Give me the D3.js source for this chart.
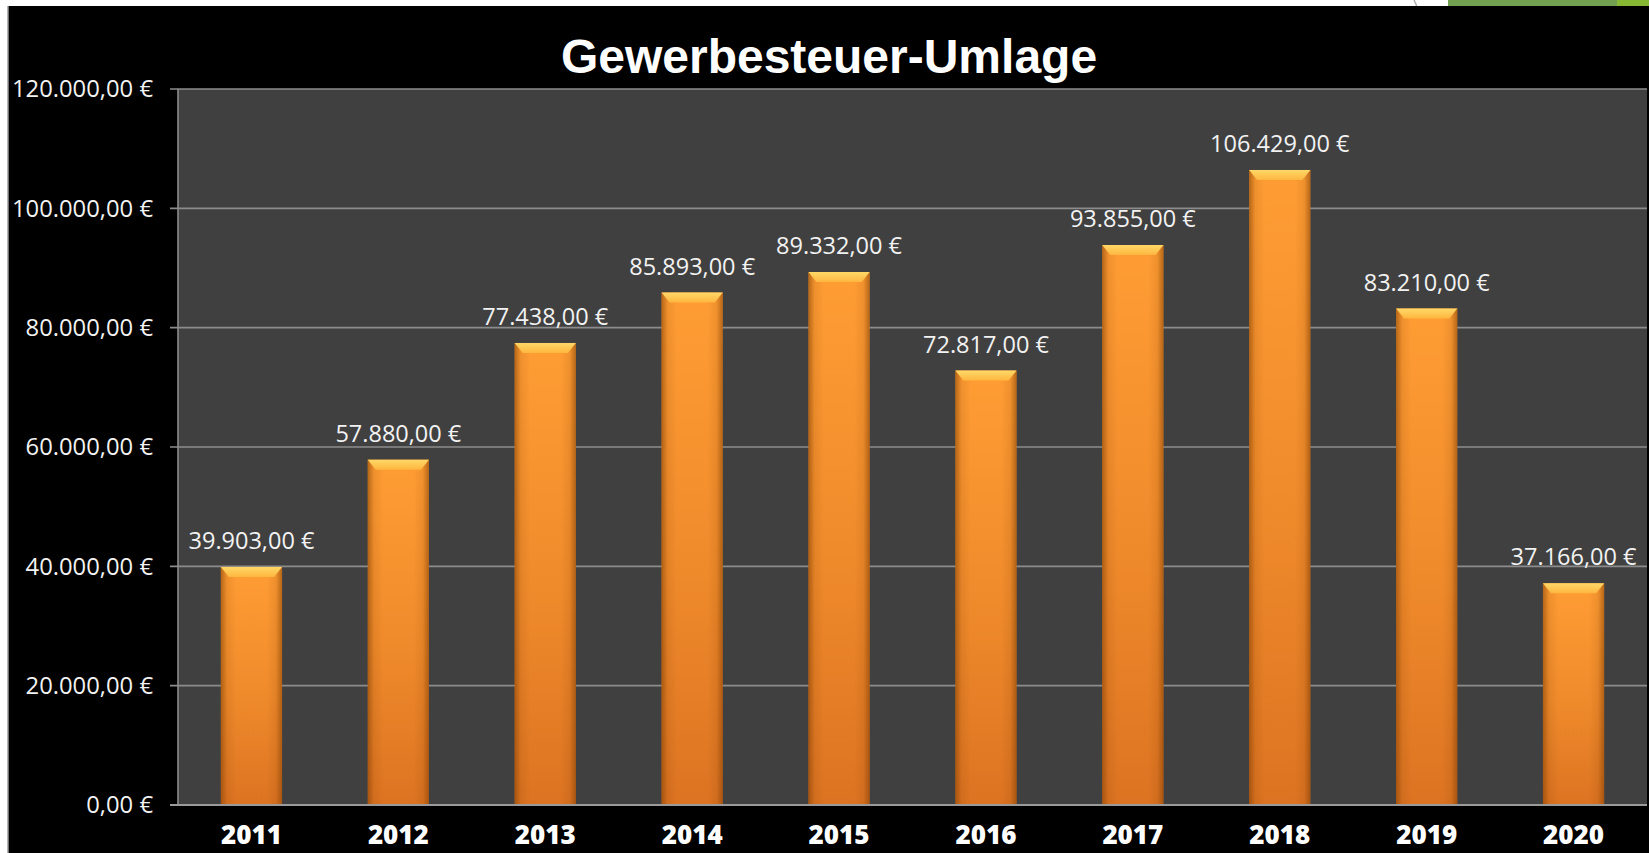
<!DOCTYPE html>
<html>
<head>
<meta charset="utf-8">
<script src="https://cdn.jsdelivr.net/npm/d3@7/dist/d3.min.js"></script>
<style>
  html, body { margin: 0; padding: 0; background: #ffffff; overflow: hidden; }
  svg { display: block; }
</style>
</head>
<body>
<svg id="chart" width="1649" height="853"></svg>
<script>
// ---- data ----
const title = "Gewerbesteuer-Umlage";
const years = ["2011", "2012", "2013", "2014", "2015", "2016", "2017", "2018", "2019", "2020"];
const values = [39903, 57880, 77438, 85893, 89332, 72817, 93855, 106429, 83210, 37166];
const yTicks = [0, 20000, 40000, 60000, 80000, 100000, 120000];

// ---- layout ----
const W = 1649, H = 853;
const plot = { left: 178, right: 1647, top: 89, bottom: 805 };

const svg = d3.select("#chart");
const defs = svg.append("defs");

// page background pieces
svg.append("rect").attr("x", 0).attr("y", 0).attr("width", W).attr("height", H).attr("fill", "#ffffff");
svg.append("rect").attr("x", 1448).attr("y", 0).attr("width", 169).attr("height", 8).attr("fill", "#71a050");
svg.append("rect").attr("x", 1617).attr("y", 0).attr("width", 32).attr("height", 8).attr("fill", "#86b834");
svg.append("path").attr("d", "M1414,0 Q1416,4 1417,7").attr("stroke", "#b0b0b0").attr("fill", "none").attr("stroke-width", 1.5);
svg.append("rect").attr("x", 8).attr("y", 6).attr("width", W - 8).attr("height", H - 6).attr("fill", "#000000");
svg.append("line").attr("x1", 8).attr("x2", 8).attr("y1", 6).attr("y2", H).attr("stroke", "#9a9a9a").attr("stroke-width", 1.5);

// plot area
svg.append("rect")
  .attr("x", plot.left).attr("y", plot.top)
  .attr("width", plot.right - plot.left).attr("height", plot.bottom - plot.top)
  .attr("fill", "#404040");

const x = d3.scaleBand().domain(years).range([plot.left, plot.right]).paddingInner(1.4 / 2.4).paddingOuter(0.7 / 2.4);
const y = d3.scaleLinear().domain([0, 120000]).range([plot.bottom, plot.top]);

// gridlines + ticks
const fmt = v => {
  const s = d3.format(",.2f")(v);
  return s.replace(/,/g, "#").replace(".", ",").replace(/#/g, ".") + " \u20AC";
};
svg.append("g").selectAll("line").data(yTicks).join("line")
  .attr("x1", plot.left - 8).attr("x2", plot.right)
  .attr("y1", d => y(d)).attr("y2", d => y(d))
  .attr("stroke", "#8c8c8c").attr("stroke-width", 1.6);
svg.append("line").attr("x1", plot.left).attr("x2", plot.left)
  .attr("y1", plot.top).attr("y2", plot.bottom)
  .attr("stroke", "#8c8c8c").attr("stroke-width", 1.6);

svg.append("g").selectAll("text").data(yTicks).join("text")
  .attr("x", 153).attr("y", d => y(d))
  .attr("dy", "0.35em")
  .attr("text-anchor", "end")
  .attr("fill", "#f2f2f2")
  .attr("font-family", "'Open Sans', sans-serif")
  .attr("font-size", 23.8)
  .text(d => fmt(d));

// gradients
const gV = defs.append("linearGradient").attr("id", "barV").attr("x1", 0).attr("y1", 0).attr("x2", 0).attr("y2", 1);
gV.append("stop").attr("offset", "0%").attr("stop-color", "#ff9d34");
gV.append("stop").attr("offset", "55%").attr("stop-color", "#ef8a2b");
gV.append("stop").attr("offset", "100%").attr("stop-color", "#dc7322");

const gH = defs.append("linearGradient").attr("id", "barH").attr("x1", 0).attr("y1", 0).attr("x2", 1).attr("y2", 0);
gH.append("stop").attr("offset", "0%").attr("stop-color", "#7a3a00").attr("stop-opacity", 0.55);
gH.append("stop").attr("offset", "10%").attr("stop-color", "#7a3a00").attr("stop-opacity", 0.12);
gH.append("stop").attr("offset", "25%").attr("stop-color", "#7a3a00").attr("stop-opacity", 0);
gH.append("stop").attr("offset", "75%").attr("stop-color", "#7a3a00").attr("stop-opacity", 0);
gH.append("stop").attr("offset", "90%").attr("stop-color", "#7a3a00").attr("stop-opacity", 0.12);
gH.append("stop").attr("offset", "100%").attr("stop-color", "#7a3a00").attr("stop-opacity", 0.55);

const gB = defs.append("linearGradient").attr("id", "bevel").attr("x1", 0).attr("y1", 0).attr("x2", 0).attr("y2", 1);
gB.append("stop").attr("offset", "0%").attr("stop-color", "#ffd868");
gB.append("stop").attr("offset", "100%").attr("stop-color", "#ffb63f");

// bars
const bars = svg.append("g");
const data = years.map((yr, i) => ({ yr, v: values[i] }));
const bw = x.bandwidth();

bars.selectAll("rect.base").data(data).join("rect").attr("class", "base")
  .attr("x", d => x(d.yr)).attr("y", d => y(d.v))
  .attr("width", bw).attr("height", d => y(0) - y(d.v))
  .attr("fill", "url(#barV)");
bars.selectAll("rect.edge").data(data).join("rect").attr("class", "edge")
  .attr("x", d => x(d.yr)).attr("y", d => y(d.v))
  .attr("width", bw).attr("height", d => y(0) - y(d.v))
  .attr("fill", "url(#barH)");
const bev = 10, ins = 8;
bars.selectAll("path.bevel").data(data).join("path").attr("class", "bevel")
  .attr("d", d => {
    const x0 = x(d.yr), x1 = x0 + bw, t = y(d.v);
    return `M${x0},${t}L${x1},${t}L${x1 - ins},${t + bev}L${x0 + ins},${t + bev}Z`;
  })
  .attr("fill", "url(#bevel)");

// axis line at bottom
svg.append("line").attr("x1", plot.left - 8).attr("x2", plot.right)
  .attr("y1", plot.bottom).attr("y2", plot.bottom)
  .attr("stroke", "#9a9a9a").attr("stroke-width", 2);

// data labels
svg.append("g").selectAll("text").data(data).join("text")
  .attr("x", d => x(d.yr) + bw / 2)
  .attr("y", d => y(d.v) - 18)
  .attr("text-anchor", "middle")
  .attr("fill", "#f2f2f2")
  .attr("font-family", "'Open Sans', sans-serif")
  .attr("font-size", 23.5)
  .text(d => fmt(d.v));

// x labels
svg.append("g").selectAll("text").data(years).join("text")
  .attr("x", d => x(d) + bw / 2)
  .attr("y", 844)
  .attr("text-anchor", "middle")
  .attr("fill", "#ffffff")
  .attr("font-family", "'Open Sans', sans-serif")
  .attr("font-weight", 800)
  .attr("font-size", 26)
  .text(d => d);

// title
svg.append("text")
  .attr("x", 829).attr("y", 73)
  .attr("text-anchor", "middle")
  .attr("fill", "#ffffff")
  .attr("font-family", "'Liberation Sans', Arial, sans-serif")
  .attr("font-weight", 700)
  .attr("font-size", 48)
  .text(title);
</script>
</body>
</html>
